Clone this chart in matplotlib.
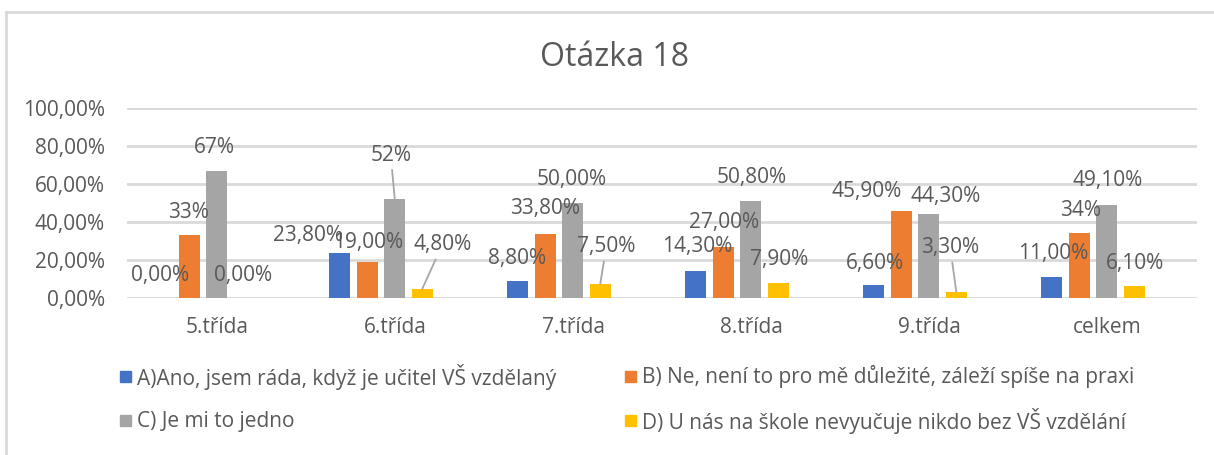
import matplotlib.pyplot as plt
import numpy as np
from matplotlib.patches import Rectangle
from matplotlib.lines import Line2D

plt.rcParams['font.family'] = ['Open Sans', 'DejaVu Sans']

# Data
categories = ["5.třída", "6.třída", "7.třída", "8.třída", "9.třída", "celkem"]
series_names = ["A)Ano, jsem ráda, když je učitel VŠ vzdělaný",
                "B) Ne, není to pro mě důležité, záleží spíše na praxi",
                "C) Je mi to jedno",
                "D) U nás na škole nevyučuje nikdo bez VŠ vzdělání"]
ans_a = [0.0, 23.8, 8.8, 14.3, 6.6, 11.0]
ans_b = [33.0, 19.0, 33.8, 27.0, 45.9, 34.0]
ans_c = [67.0, 52.0, 50.0, 50.8, 44.3, 49.1]
ans_d = [0.0, 4.8, 7.5, 7.9, 3.3, 6.1]
# labels as they were typed in the sheet (some rounded to whole percent)
fmt_a = ["{:.2f}%"] * 6
fmt_b = ["{:.0f}%", "{:.2f}%", "{:.2f}%", "{:.2f}%", "{:.2f}%", "{:.0f}%"]
fmt_c = ["{:.0f}%", "{:.0f}%", "{:.2f}%", "{:.2f}%", "{:.2f}%", "{:.2f}%"]
fmt_d = ["{:.2f}%"] * 6

colors = ["#4472C4", "#ED7D31", "#A5A5A5", "#FFC000"]
txt = "#595959"
grid_c = "#D9D9D9"

# label offsets in pixels (dx, dy) from the bar top; True = leader line
offs_a = [(-2, 23), (-32, 17), (-1, 23), (1, 24), (1, 22), (1, 24)]
offs_b = [(-1, 23), (1, 19), (0, 25), (1, 24), (-35, 19), (1, 23)]
offs_c = [(-2, 23), (-4, 44), (-1, 24), (1, 24), (17, 17), (1, 24)]
offs_d = [(-1, 23), (20, 44), (6, 37), (1, 23), (-6, 44), (1, 23)]
lead_c = [False, True, False, False, False, False]
lead_d = [False, True, True, False, True, False]

fig = plt.figure(figsize=(12.14, 4.55), dpi=100)
ax = fig.add_axes([127/1214, 1-298/455, 1070/1214, 190/455])

x = np.arange(len(categories))
w = 0.118
step = 0.1545
all_vals = [ans_a, ans_b, ans_c, ans_d]
all_fmt = [fmt_a, fmt_b, fmt_c, fmt_d]
all_offs = [offs_a, offs_b, offs_c, offs_d]
all_lead = [[False]*6, [False]*6, lead_c, lead_d]

for k, vals in enumerate(all_vals):
    xs = x + (k - 1.5) * step
    ax.bar(xs, vals, w, color=colors[k], zorder=3)
    for i, v in enumerate(vals):
        lbl = all_fmt[k][i].format(v).replace(".", ",")
        dx, dy = all_offs[k][i]
        kw = {}
        if all_lead[k][i]:
            kw["arrowprops"] = dict(arrowstyle="-", color="#A6A6A6", lw=1.3,
                                    shrinkA=1, shrinkB=0)
        ax.annotate(lbl, (xs[i], v), xytext=(dx, dy), textcoords="offset pixels",
                    ha="center", va="center", fontsize=15, color=txt, zorder=4, **kw)

ax.set_xlim(-0.427, 5.584)
ax.set_ylim(0, 100)
ax.set_yticks(np.arange(0, 101, 20))
ax.set_yticklabels([f"{t},00%" for t in range(0, 101, 20)])
ax.set_xticks(x + 0.08)
ax.set_xticklabels(categories)
ax.tick_params(axis="both", length=0, labelsize=15, labelcolor=txt)
ax.tick_params(axis="y", pad=16)
ax.tick_params(axis="x", pad=14)
ax.grid(axis="y", color=grid_c, lw=2, zorder=0)
for s in ax.spines.values():
    s.set_visible(False)

fig.text(615/1214, 1-57/455, "Otázka 18", ha="center", va="center", fontsize=23, color=txt)

# legend, two columns
leg_pos = [(120, 377), (625, 377), (120, 421), (625, 421)]
for k, (px, py) in enumerate(leg_pos):
    fig.patches.append(Rectangle((px/1214, 1-(py+5)/455), 11/1214, 11/455,
                                 transform=fig.transFigure, color=colors[k]))
    fig.text((px+17)/1214, 1-py/455, series_names[k], ha="left", va="center",
             fontsize=15, color=txt)

# chart frame
fig.add_artist(Line2D([6/1214, 6/1214], [0, 1-12/455], transform=fig.transFigure,
                      color=grid_c, lw=2))
fig.add_artist(Line2D([6/1214, 1213/1214], [1-12/455, 1-12/455], transform=fig.transFigure,
                      color=grid_c, lw=2))

fig.savefig("out.png", dpi=100)
